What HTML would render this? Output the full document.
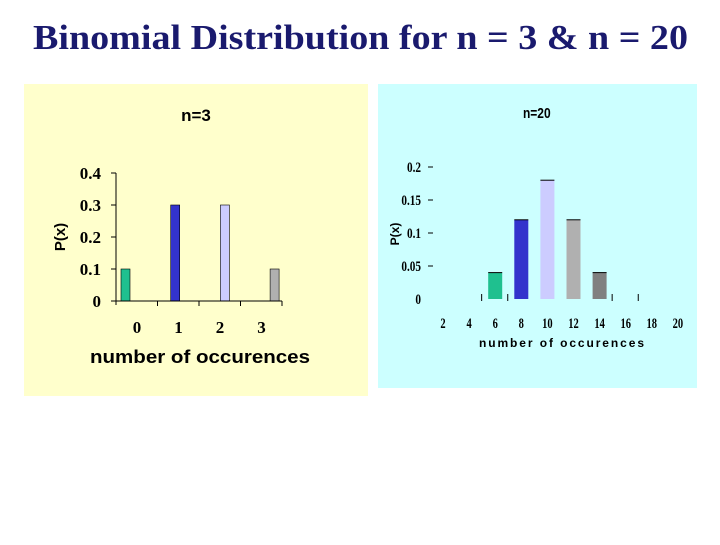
<!DOCTYPE html>
<html><head><meta charset="utf-8"><style>
body{margin:0;background:#fff;width:720px;height:540px;overflow:hidden}
</style></head><body>
<svg width="720" height="540" xmlns="http://www.w3.org/2000/svg">
<text x="33" y="49" textLength="655" lengthAdjust="spacingAndGlyphs" font-family="Liberation Serif, serif" font-size="35" font-weight="bold" fill="#1a1a6e">Binomial Distribution for n = 3 &amp; n = 20</text>
<rect x="24" y="84" width="344" height="312" fill="#ffffcc"/>
<rect x="378" y="84" width="319" height="304" fill="#ccffff"/>
<g id="c1"></g>
<g id="c2"></g>
</svg>
<script>
const cats1=["0","1","2","3"];
const vals1=[0.1,0.3,0.3,0.1];
const yticks1=[0,0.1,0.2,0.3,0.4];
const ytickLabels1=["0","0.1","0.2","0.3","0.4"];
const cats2=[6,8,10,12,14];
const vals2=[0.04,0.12,0.18,0.12,0.04];
const yticks2=[0,0.05,0.1,0.15,0.2];
const ytickLabels2=["0","0.05","0.1","0.15","0.2"];
const xlabels2=[2,4,6,8,10,12,14,16,18,20];
const colors=["#1fc08f","#3333cc","#ccccff","#b0b0b0","#808080"];
const NS="http://www.w3.org/2000/svg";
function mk(p,t,a,txt){const e=document.createElementNS(NS,t);for(const k in a)e.setAttribute(k,a[k]);if(txt!==undefined)e.textContent=txt;p.appendChild(e);return e;}
// chart 1
const g1=document.getElementById('c1');
const y1=v=>301-v*320, x1=i=>116+41.5*i;
let t=mk(g1,'text',{x:196,y:121,'text-anchor':'middle','font-family':'Liberation Sans, sans-serif','font-size':17,'font-weight':'bold'},'n=3');


vals1.forEach((v,i)=>{const r=mk(g1,'rect',{x:x1(i)+5+i*8.2,y:y1(v),width:9,height:y1(0)-y1(v),fill:colors[i],stroke:'#000','stroke-width':0.6});

});
let l=mk(g1,'line',{x1:116,y1:y1(0.4),x2:116,y2:y1(0)+4,stroke:'#000'});


l=mk(g1,'line',{x1:116,y1:y1(0),x2:x1(4),y2:y1(0),stroke:'#000'});


for(let i=1;i<=4;i++)mk(g1,'line',{x1:x1(i),y1:y1(0),x2:x1(i),y2:y1(0)+5,stroke:'#000'});
yticks1.forEach((v,i)=>{mk(g1,'line',{x1:111,y1:y1(v),x2:116,y2:y1(v),stroke:'#000'});
const e=mk(g1,'text',{x:101,y:y1(v)+6,'text-anchor':'end','font-family':'Liberation Serif, serif','font-size':17,'font-weight':'bold'},ytickLabels1[i]);

});
cats1.forEach((c,i)=>{const e=mk(g1,'text',{x:137+41.5*i,y:333,'text-anchor':'middle','font-family':'Liberation Serif, serif','font-size':17,'font-weight':'bold'},c);

});
t=mk(g1,'text',{x:90,y:363,textLength:220,lengthAdjust:'spacingAndGlyphs','font-family':'Liberation Sans, sans-serif','font-size':18,'font-weight':'bold'},'number of occurences');


t=mk(g1,'text',{x:0,y:0,'text-anchor':'middle','font-family':'Liberation Sans, sans-serif','font-size':15,'font-weight':'bold',transform:'translate(65,237) rotate(-90)'},'P(x)');


// chart 2
const g2=document.getElementById('c2');
const y2=v=>299-v*660, x2=c=>443+(c-2)*13.05;
t=mk(g2,'text',{x:537,y:118,'text-anchor':'middle','font-family':'Liberation Sans, sans-serif','font-size':15,'font-weight':'bold',transform:'scale(0.8,1) translate(134,0)'},'n=20');


vals2.forEach((v,i)=>{const cx=x2(cats2[i]);const r=mk(g2,'rect',{x:cx-7,y:y2(v),width:14,height:y2(0)-y2(v),fill:colors[i]});


mk(g2,'line',{x1:cx-7,y1:y2(v),x2:cx+7,y2:y2(v),stroke:'#000'});});
[5,7,15,17].forEach(c=>mk(g2,'line',{x1:x2(c)-0.5,y1:294,x2:x2(c)-0.5,y2:301,stroke:'#000'}));
yticks2.forEach((v,i)=>{mk(g2,'line',{x1:428,y1:y2(v),x2:433,y2:y2(v),stroke:v?'#000':'none'});
const e=mk(g2,'text',{x:421,y:y2(v)+5,'text-anchor':'end','font-family':'Liberation Serif, serif','font-size':15,'font-weight':'bold',transform:'translate('+(421*0.25)+',0) scale(0.75,1)'},ytickLabels2[i]);

});
xlabels2.forEach(c=>{const x=x2(c);const e=mk(g2,'text',{x:x/0.7,y:328,'text-anchor':'middle','font-family':'Liberation Serif, serif','font-size':15,'font-weight':'bold',transform:'scale(0.7,1)'},c);

});
t=mk(g2,'text',{x:479,y:347,textLength:165,lengthAdjust:'spacing','font-family':'Liberation Sans, sans-serif','font-size':12,'font-weight':'bold'},'number of occurences');


t=mk(g2,'text',{x:0,y:0,'text-anchor':'middle','font-family':'Liberation Sans, sans-serif','font-size':12,'font-weight':'bold',transform:'translate(399,234) rotate(-90)'},'P(x)');


</script>
</body></html>
